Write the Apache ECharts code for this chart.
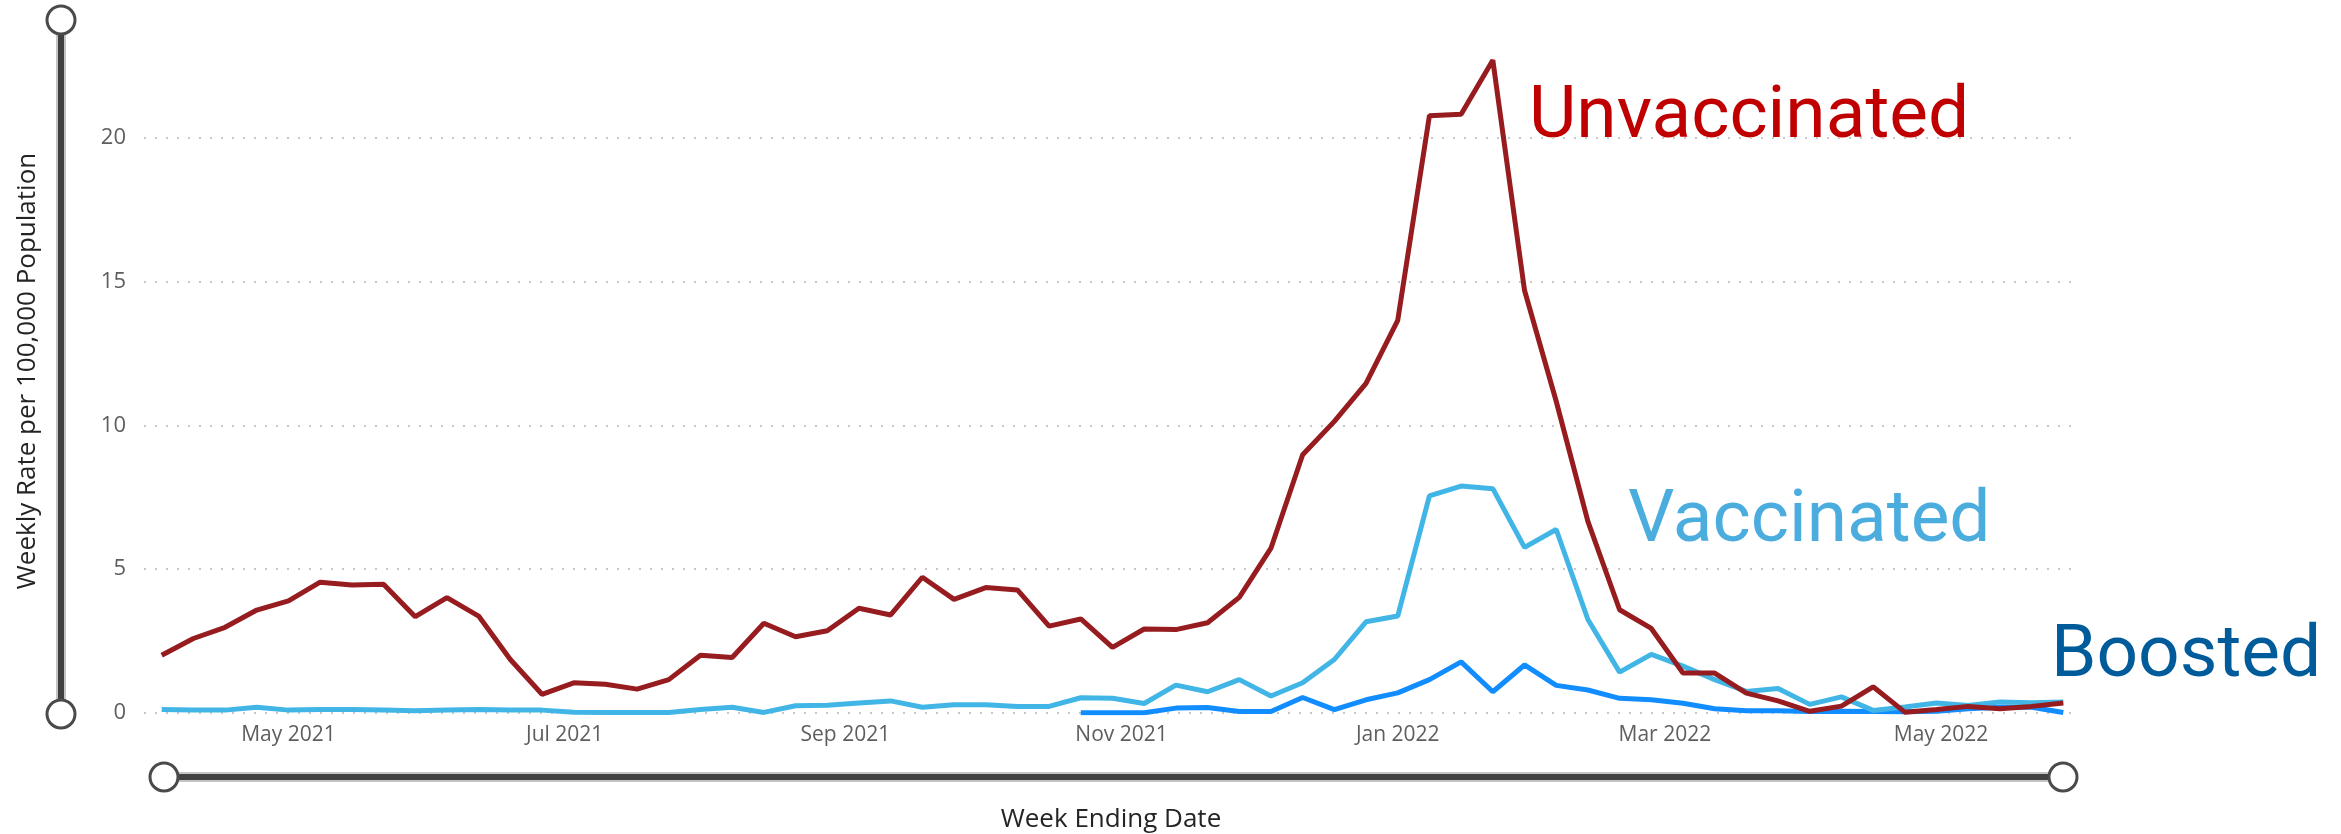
<!DOCTYPE html>
<html>
<head>
<meta charset="utf-8">
<title>Weekly Rate per 100,000 Population</title>
<script src="https://cdn.jsdelivr.net/npm/echarts@6/dist/echarts.min.js"></script>
<style>
    html, body { margin: 0; padding: 0; background: #ffffff; }
    #rate-chart { width: 2341px; height: 834px; }
</style>
</head>
<body>
<div id="rate-chart"></div>
<script>
// week ending dates (Saturdays)
var weekEnding = [
    '2021-04-03', '2021-04-10', '2021-04-17', '2021-04-24', '2021-05-01', '2021-05-08', '2021-05-15',
    '2021-05-22', '2021-05-29', '2021-06-05', '2021-06-12', '2021-06-19', '2021-06-26', '2021-07-03',
    '2021-07-10', '2021-07-17', '2021-07-24', '2021-07-31', '2021-08-07', '2021-08-14', '2021-08-21',
    '2021-08-28', '2021-09-04', '2021-09-11', '2021-09-18', '2021-09-25', '2021-10-02', '2021-10-09',
    '2021-10-16', '2021-10-23', '2021-10-30', '2021-11-06', '2021-11-13', '2021-11-20', '2021-11-27',
    '2021-12-04', '2021-12-11', '2021-12-18', '2021-12-25', '2022-01-01', '2022-01-08', '2022-01-15',
    '2022-01-22', '2022-01-29', '2022-02-05', '2022-02-12', '2022-02-19', '2022-02-26', '2022-03-05',
    '2022-03-12', '2022-03-19', '2022-03-26', '2022-04-02', '2022-04-09', '2022-04-16', '2022-04-23',
    '2022-04-30', '2022-05-07', '2022-05-14', '2022-05-21', '2022-05-28'
];

var unvaccinated = [
    2.01, 2.59, 2.98, 3.58, 3.90, 4.55, 4.45, 4.48, 3.35, 4.01,
    3.37, 1.86, 0.65, 1.05, 1.00, 0.83, 1.16, 2.01, 1.93, 3.12,
    2.65, 2.86, 3.64, 3.41, 4.72, 3.95, 4.36, 4.28, 3.02, 3.27,
    2.28, 2.92, 2.90, 3.14, 4.02, 5.73, 8.98, 10.14, 11.46, 13.65,
    20.77, 20.82, 22.70, 14.70, 10.84, 6.66, 3.59, 2.94, 1.39, 1.39,
    0.69, 0.42, 0.06, 0.24, 0.91, 0.03, 0.12, 0.23, 0.15, 0.23,
    0.35
];

var vaccinated = [
    0.12, 0.10, 0.10, 0.20, 0.10, 0.12, 0.12, 0.10, 0.08, 0.10,
    0.12, 0.10, 0.10, 0.03, 0.02, 0.02, 0.02, 0.12, 0.20, 0.02,
    0.25, 0.27, 0.35, 0.42, 0.20, 0.29, 0.29, 0.23, 0.23, 0.53,
    0.51, 0.33, 0.97, 0.74, 1.16, 0.59, 1.05, 1.86, 3.17, 3.37,
    7.55, 7.89, 7.80, 5.76, 6.38, 3.25, 1.42, 2.04, 1.63, 1.16,
    0.75, 0.85, 0.30, 0.56, 0.09, 0.21, 0.35, 0.26, 0.38, 0.36,
    0.38
];

var boosted = [
    null, null, null, null, null, null, null, null, null, null,
    null, null, null, null, null, null, null, null, null, null,
    null, null, null, null, null, null, null, null, null, 0.01,
    0.01, 0.01, 0.17, 0.19, 0.05, 0.05, 0.54, 0.12, 0.46, 0.70,
    1.16, 1.78, 0.74, 1.67, 0.96, 0.80, 0.51, 0.46, 0.34, 0.15,
    0.08, 0.08, 0.05, 0.06, 0.05, 0.04, 0.06, 0.15, 0.20, 0.20,
    0.02
];

var tickDates = ['2021-05-01', '2021-07-01', '2021-09-01', '2021-11-01', '2022-01-01', '2022-03-01', '2022-05-01'];
var tickLabels = ['May 2021', 'Jul 2021', 'Sep 2021', 'Nov 2021', 'Jan 2022', 'Mar 2022', 'May 2022'];
var yTicks = [0, 5, 10, 15, 20];

var xMin = '2021-03-30 02:10';
var xMax = '2022-05-31 06:00';

document.addEventListener("DOMContentLoaded", function () {
    renderRateChart("rate-chart");
});

// local-time timestamp for 'YYYY-MM-DD' or 'YYYY-MM-DD HH:mm'
function toTime(s) {
    var p = s.split(/[- :]/).map(Number);
    return new Date(p[0], p[1] - 1, p[2], p[3] || 0, p[4] || 0).getTime();
}

function pairUp(values) {
    return values.map(function (v, i) {
        return [toTime(weekEnding[i]), v];
    });
}

function renderRateChart(containerID) {
    var chart = echarts.init(document.getElementById(containerID));
    var tickTimes = tickDates.map(toTime);
    var tickFont = '"Open Sans", "Noto Sans", sans-serif';

    option = {
        animation: false,
        backgroundColor: '#ffffff',
        grid: { left: 144, right: 263, top: -6, bottom: 121, outerBoundsMode: 'none', containLabel: false },
        xAxis: {
            type: 'value',
            min: toTime(xMin),
            max: toTime(xMax),
            name: 'Week Ending Date',
            nameLocation: 'middle',
            nameGap: 94,
            nameTextStyle: { color: '#252423', fontSize: 26, fontFamily: tickFont },
            axisLine: { show: false },
            axisTick: { show: false },
            splitLine: { show: false },
            axisLabel: {
                customValues: tickTimes,
                color: '#605E5C',
                fontSize: 21,
                fontFamily: tickFont,
                margin: 12,
                formatter: function (value) {
                    var i = tickTimes.indexOf(value);
                    return i >= 0 ? tickLabels[i] : '';
                }
            }
        },
        yAxis: {
            type: 'value',
            min: 0,
            max: 25,
            interval: 5,
            axisLine: { show: false },
            axisTick: { show: false },
            axisLabel: {
                customValues: yTicks,
                color: '#605E5C',
                fontSize: 22,
                fontFamily: tickFont,
                margin: 18
            },
            splitLine: {
                showMaxLine: false,
                lineStyle: { color: '#c8c8c8', width: 2, type: [2, 9] }
            }
        },
        series: [
            {
                name: 'Boosted',
                type: 'line',
                data: pairUp(boosted),
                showSymbol: false,
                connectNulls: false,
                lineStyle: { color: '#118DFF', width: 5 },
                itemStyle: { color: '#118DFF' }
            },
            {
                name: 'Vaccinated',
                type: 'line',
                data: pairUp(vaccinated),
                showSymbol: false,
                lineStyle: { color: '#41B6E6', width: 5 },
                itemStyle: { color: '#41B6E6' }
            },
            {
                name: 'Unvaccinated',
                type: 'line',
                data: pairUp(unvaccinated),
                showSymbol: false,
                lineStyle: { color: '#961C20', width: 5 },
                itemStyle: { color: '#961C20' }
            }
        ],
        graphic: [
            // y axis title
            {
                type: 'text',
                x: 28, y: 371,
                rotation: Math.PI / 2,
                style: {
                    text: 'Weekly Rate per 100,000 Population',
                    fill: '#252423',
                    font: '26px "Open Sans", "Noto Sans", sans-serif',
                    align: 'center',
                    verticalAlign: 'middle'
                }
            },
            // series callouts
            {
                type: 'text', x: 1529, y: 119,
                style: { text: 'Unvaccinated', fill: '#C00000', font: '73px Roboto', verticalAlign: 'middle' }
            },
            {
                type: 'text', x: 1628, y: 523,
                style: { text: 'Vaccinated', fill: '#4BACDE', font: '73px Roboto', verticalAlign: 'middle' }
            },
            {
                type: 'text', x: 2051, y: 658,
                style: { text: 'Boosted', fill: '#005B9A', font: '73px Roboto', verticalAlign: 'middle' }
            },
            // zoom sliders (vertical)
            { type: 'line', shape: { x1: 61, y1: 20, x2: 61, y2: 714 }, style: { stroke: '#c4c4c4', lineWidth: 10 } },
            { type: 'line', shape: { x1: 61, y1: 20, x2: 61, y2: 714 }, style: { stroke: '#404040', lineWidth: 6 } },
            { type: 'circle', shape: { cx: 61, cy: 20, r: 14 }, style: { fill: '#ffffff', stroke: '#4a4a4a', lineWidth: 3 } },
            { type: 'circle', shape: { cx: 61, cy: 714, r: 14 }, style: { fill: '#ffffff', stroke: '#4a4a4a', lineWidth: 3 } },
            // zoom sliders (horizontal)
            { type: 'line', shape: { x1: 164, y1: 777, x2: 2063, y2: 777 }, style: { stroke: '#c4c4c4', lineWidth: 10 } },
            { type: 'line', shape: { x1: 164, y1: 777, x2: 2063, y2: 777 }, style: { stroke: '#404040', lineWidth: 6 } },
            { type: 'circle', shape: { cx: 164, cy: 777, r: 14 }, style: { fill: '#ffffff', stroke: '#4a4a4a', lineWidth: 3 } },
            { type: 'circle', shape: { cx: 2063, cy: 777, r: 14 }, style: { fill: '#ffffff', stroke: '#4a4a4a', lineWidth: 3 } }
        ]
    };
    chart.setOption(option);
}
</script>
</body>
</html>
